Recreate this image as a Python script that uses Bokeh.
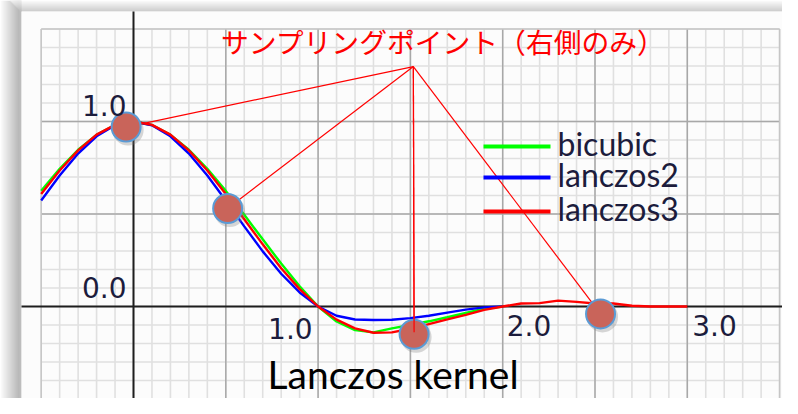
from bokeh.plotting import figure
from bokeh.models import Range1d
from bokeh.core.properties import value
from bokeh.embed import file_html
from bokeh.resources import INLINE

# ---------------- data ----------------
kernel_x = [-0.5, -0.4, -0.3, -0.2, -0.1, 0.0, 0.1, 0.2, 0.3, 0.4, 0.5,
            0.6, 0.7, 0.8, 0.9, 1.0, 1.1, 1.2, 1.3, 1.4, 1.5,
            1.6, 1.7, 1.8, 1.9, 2.0]
bicubic = [0.625, 0.744, 0.847, 0.928, 0.981, 1.0, 0.981, 0.928, 0.847, 0.744, 0.625,
           0.496, 0.363, 0.232, 0.109, 0.0, -0.081, -0.128, -0.14, -0.118, -0.1,
           -0.08, -0.058, -0.035, -0.012, 0.0]
lanczos2 = [0.573, 0.708, 0.827, 0.920, 0.980, 1.0, 0.980, 0.920, 0.827, 0.708, 0.573,
            0.433, 0.298, 0.177, 0.076, 0.0, -0.05, -0.07, -0.073, -0.072, -0.063,
            -0.05, -0.033, -0.017, -0.005, 0.0]
lanczos3_x = [-0.5, -0.4, -0.3, -0.2, -0.1, 0.0, 0.1, 0.2, 0.3, 0.4, 0.5,
              0.6, 0.7, 0.8, 0.9, 1.0, 1.1, 1.2, 1.3, 1.4, 1.5,
              1.6, 1.7, 1.8, 1.9, 2.0, 2.1, 2.2, 2.3, 2.4, 2.5,
              2.6, 2.7, 2.8, 2.9, 3.0]
lanczos3 = [0.608, 0.735, 0.844, 0.929, 0.982, 1.0, 0.982, 0.929, 0.844, 0.735, 0.608,
            0.472, 0.336, 0.207, 0.094, 0.0, -0.071, -0.118, -0.142, -0.14, -0.12,
            -0.095, -0.07, -0.045, -0.018, 0.0, 0.016, 0.018, 0.032, 0.025, 0.016,
            0.016, 0.004, 0.0, 0.0, 0.0]
series_names = ["bicubic", "lanczos2", "lanczos3"]

sample_x = [-0.04, 0.51, 1.52, 2.53]
sample_y = [0.97, 0.53, -0.15, -0.04]
callout_x = 1.516
callout_y = 1.297
callout_text = "サンプリングポイント（右側のみ）"

x_tick_values = [1.0, 2.0, 3.0]
x_tick_labels = ["1.0", "2.0", "3.0"]
y_tick_values = [1.0, 0.0]
y_tick_labels = ["1.0", "0.0"]
caption = "Lanczos kernel"

# ---------------- layout ----------------
W, H = 782, 398
X0, SX = 133.0, 184.6
Y0, SY = 306.0, 185.0


def xd(px):
    return (px - X0) / SX


def yd(py):
    return (Y0 - py) / SY


p = figure(width=W, height=H,
           x_range=Range1d(xd(0), xd(W)), y_range=Range1d(yd(H), yd(0)),
           toolbar_location=None, output_backend="svg", min_border=0,
           x_axis_type=None, y_axis_type=None,
           background_fill_color="#ffffff", border_fill_color="#ffffff",
           outline_line_color=None)
p.xgrid.visible = False
p.ygrid.visible = False

# shadow around the slide panel
lx, rx, cols = [], [], []
for i, px in enumerate(range(0, 21)):
    g = int(max(250 - i * 5, 160)) if px < 19 else 168
    lx.append(xd(px)); rx.append(xd(px + 1)); cols.append("#%02x%02x%02x" % (g, g, g))
p.quad(left=lx, right=rx, top=[yd(0)] * len(lx), bottom=[yd(420)] * len(lx),
       fill_color=cols, line_color=None)
tt, tb, tc = [], [], []
for i, py in enumerate(range(0, 11)):
    g = int(250 - i * 6)
    tt.append(yd(py)); tb.append(yd(py + 1)); tc.append("#%02x%02x%02x" % (g, g, g))
p.quad(left=[xd(21 - (11 - i)) for i in range(11)], right=[xd(800)] * 11, top=tt, bottom=tb,
       fill_color=tc, line_color=None)
# panel
p.quad(left=[xd(21)], right=[xd(800)], top=[yd(11)], bottom=[yd(420)],
       fill_color="#fcfcfc", line_color=None)

# grid
gx_minor = [round(-0.5 + 0.1 * i, 2) for i in range(41)]
gy_minor = [round(-0.5 + 0.1 * i, 2) for i in range(21)]
p.segment(x0=gx_minor, y0=[-0.5] * 41, x1=gx_minor, y1=[1.5] * 41,
          line_color="#e0e0e0", line_width=1.6)
p.segment(x0=[-0.5] * 21, y0=gy_minor, x1=[3.5] * 21, y1=gy_minor,
          line_color="#e0e0e0", line_width=1.6)
gx_major = [0.5, 1.0, 1.5, 2.0, 2.5, 3.0]
gy_major = [0.5, 1.0]
p.segment(x0=gx_major, y0=[-0.5] * 6, x1=gx_major, y1=[1.5] * 6,
          line_color="#a8a8a8", line_width=1.5)
p.segment(x0=[-0.5] * 2, y0=gy_major, x1=[3.5] * 2, y1=gy_major,
          line_color="#a8a8a8", line_width=1.5)
p.segment(x0=[-0.5, 3.5, -0.5, -0.5], y0=[-0.5, -0.5, 1.5, -0.5],
          x1=[-0.5, 3.5, 3.5, 3.5], y1=[1.5, 1.5, 1.5, -0.5],
          line_color="#c6c6c6", line_width=1.5)

# axes
p.segment(x0=[0.0], y0=[yd(11)], x1=[0.0], y1=[yd(420)], line_color="#1e1e1e", line_width=2)
p.segment(x0=[xd(21)], y0=[0.0], x1=[xd(800)], y1=[0.0], line_color="#1e1e1e", line_width=2)

# curves
p.line(kernel_x, bicubic, line_color="#00ff00", line_width=2.4)
p.line(kernel_x, lanczos2, line_color="#0000ff", line_width=2.4)
p.line(lanczos3_x, lanczos3, line_color="#ff0000", line_width=2.4)

# callout lines
n = len(sample_x)
p.segment(x0=[callout_x] * n, y0=[callout_y] * n, x1=sample_x, y1=sample_y,
          line_color="#ff0000", line_width=1.2)

# sampling circles with soft shadow
p.scatter([x + 2 / SX for x in sample_x], [y - 3 / SY for y in sample_y], size=31,
          fill_color="#7a7a7a", fill_alpha=0.3, line_color=None)
p.scatter(sample_x, sample_y, size=29, fill_color="#c9645a",
          line_color="#5b9bd5", line_width=2)
# the vertical callout line is drawn over its circle
p.segment(x0=[callout_x], y0=[callout_y], x1=[sample_x[2]], y1=[sample_y[2] + 2 / SY],
          line_color="#ff0000", line_width=1.2)

# callout title
p.text(x=[callout_x], y=[callout_y], text=[callout_text], x_offset=30, y_offset=-26,
       text_font=value("Noto Sans CJK JP"), text_font_size="27.8px",
       text_color="#ff0000", text_align="center", text_baseline="middle")

# tick labels
tick_font = value("DejaVu Sans")
tick_color = "#1c1c3c"
y_label_dy = [-16, -19]
for v, lab, dy in zip(y_tick_values, y_tick_labels, y_label_dy):
    p.text(x=[0.0], y=[v], text=[lab], x_offset=-7, y_offset=dy,
           text_align="right", text_baseline="alphabetic",
           text_font=tick_font, text_font_size="28px", text_color=tick_color)
x_label_dx = [-50, 4, 5]
x_label_dy = [22, 19, 19]
for v, lab, dx, dy in zip(x_tick_values, x_tick_labels, x_label_dx, x_label_dy):
    p.text(x=[v], y=[0.0], text=[lab], x_offset=dx, y_offset=dy,
           text_align="left", text_baseline="alphabetic",
           text_font=tick_font, text_font_size="28px", text_color=tick_color)

# legend (drawn in place)
leg_rows = [yd(146), yd(177), yd(211)]
leg_colors = ["#00ff00", "#0000ff", "#ff0000"]
p.segment(x0=[xd(483)] * 3, y0=leg_rows, x1=[xd(550)] * 3, y1=leg_rows,
          line_color=leg_colors, line_width=4)
p.text(x=[xd(557)] * 3, y=leg_rows, text=series_names, y_offset=-3,
       text_align="left", text_baseline="middle",
       text_font=value("Lato"), text_font_size="32px", text_color="#1c1c3c")

# caption
p.text(x=[xd(267)], y=[yd(373)], text=[caption], text_align="left",
       text_baseline="alphabetic", text_font=value("Lato"),
       text_font_size="39px", text_color="#000000")

open("out.html", "w").write(file_html(p, INLINE))
